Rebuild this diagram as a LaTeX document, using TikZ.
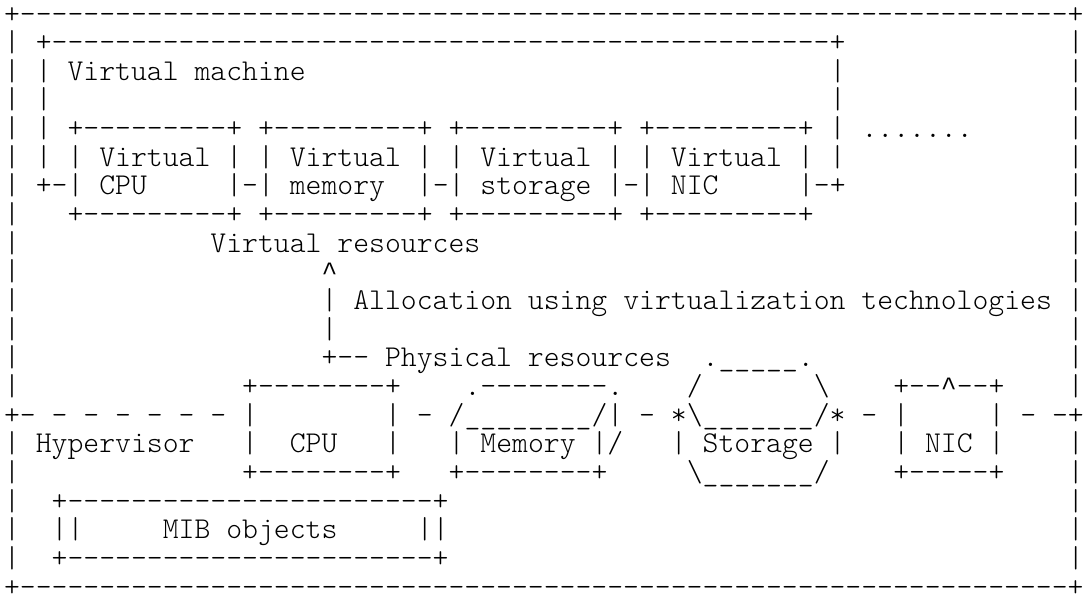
\documentclass[tikz,border=0pt]{standalone}
\usepackage{fontspec}
\setmonofont{lmmonolt10-regular.otf}
\newfontfamily\capfont{Liberation Mono}
\newcommand\rep[2]{\foreach\k in {1,...,#1}{#2}}
\newcommand\caret{{\capfont\fontsize{13.23}{16}\selectfont\textasciicircum}}

\begin{document}
\begin{tikzpicture}[x=7.94pt,y=-14.325pt,
   asc/.style={anchor=base west,inner sep=0pt,outer sep=0pt,xshift=2pt,yshift=-11.5pt,
     font=\ttfamily\fontsize{15.12}{18}\selectfont\frenchspacing}]
\useasboundingbox (0pt,0pt) rectangle (542.5pt,-300.5pt);
% outer frame
\node[asc] (frametop) at (0,0) {+\rep{66}{-}+};
\node[asc] (framebot) at (0,20) {+\rep{66}{-}+};
\foreach \r in {1,2,...,13,15,16,...,19} {
  \node[asc] (lb\r) at (0,\r) {|};
  \node[asc] (rb\r) at (67,\r) {|};
}
% virtual machine
\node[asc] (vmtop) at (2,1) {+\rep{49}{-}+};
\node[asc] (vml2) at (2,2) {|};
\node[asc] (vmtitle) at (4,2) {Virtual machine};
\node[asc] (vmr2) at (52,2) {|};
\node[asc] (vml3) at (2,3) {|};
\node[asc] (vmr3) at (52,3) {|};
\node[asc] (vboxtop) at (2,4) {| +\rep{9}{-}+ +\rep{9}{-}+ +\rep{9}{-}+ +\rep{9}{-}+ |};
\node[asc] (more) at (54,4) {.......};
\node[asc] (vboxname) at (2,5) {| | Virtual | | Virtual | | Virtual | | Virtual | |};
\node[asc] (vcpu) at (2,6) {+-| CPU};
\node[asc] (vmem) at (14,6) {|-| memory};
\node[asc] (vsto) at (26,6) {|-| storage |-| NIC};
\node[asc] (vnic) at (50,6) {|-+};
\node[asc] (vboxbot) at (4,7) {+\rep{9}{-}+ +\rep{9}{-}+ +\rep{9}{-}+ +\rep{9}{-}+};
% allocation
\node[asc] (vres) at (13,8) {Virtual resources};
\node[asc] (tip) at (20,9) {\caret};
\node[asc] (alloc) at (20,10) {| Allocation using virtualization technologies};
\node[asc] (shaft) at (20,11) {|};
\node[asc] (pres) at (20,12) {+-- Physical resources};
% physical resources
\node[asc] (stotop) at (44,12) {.\rep{5}{\_}.};
\node[asc] (cputop) at (15,13) {+\rep{8}{-}+};
\node[asc] (memback) at (29,13) {.\rep{8}{-}.};
\node[asc] (stol) at (43,13) {/};
\node[asc] (stor) at (51,13) {\textbackslash};
\node[asc] (nictop) at (56,13) {+--\caret--+};
\node[asc] (hyptop) at (0,14) {+- - - - - - - |};
\node[asc] (hypmid) at (24,14) {| - /\rep{8}{\_}/| - *\textbackslash\rep{7}{\_}/* - |};
\node[asc] (hypend) at (62,14) {| - -+};
\node[asc] (hyp) at (2,15) {Hypervisor};
\node[asc] (cpul) at (15,15) {|};
\node[asc] (cpu) at (18,15) {CPU};
\node[asc] (cpur) at (24,15) {|};
\node[asc] (mem) at (28,15) {| Memory |/};
\node[asc] (sto) at (42,15) {| Storage |};
\node[asc] (nic) at (56,15) {| NIC |};
\node[asc] (cpubot) at (15,16) {+\rep{8}{-}+};
\node[asc] (membot) at (28,16) {+\rep{8}{-}+};
\node[asc] (stobot) at (43,16) {\textbackslash\rep{7}{\_}/};
\node[asc] (nicbot) at (56,16) {+\rep{5}{-}+};
% mib
\node[asc] (mibtop) at (3,17) {+\rep{23}{-}+};
\node[asc] (mibl) at (3,18) {||};
\node[asc] (mib) at (10,18) {MIB objects};
\node[asc] (mibr) at (26,18) {||};
\node[asc] (mibbot) at (3,19) {+\rep{23}{-}+};
\end{tikzpicture}
\end{document}
